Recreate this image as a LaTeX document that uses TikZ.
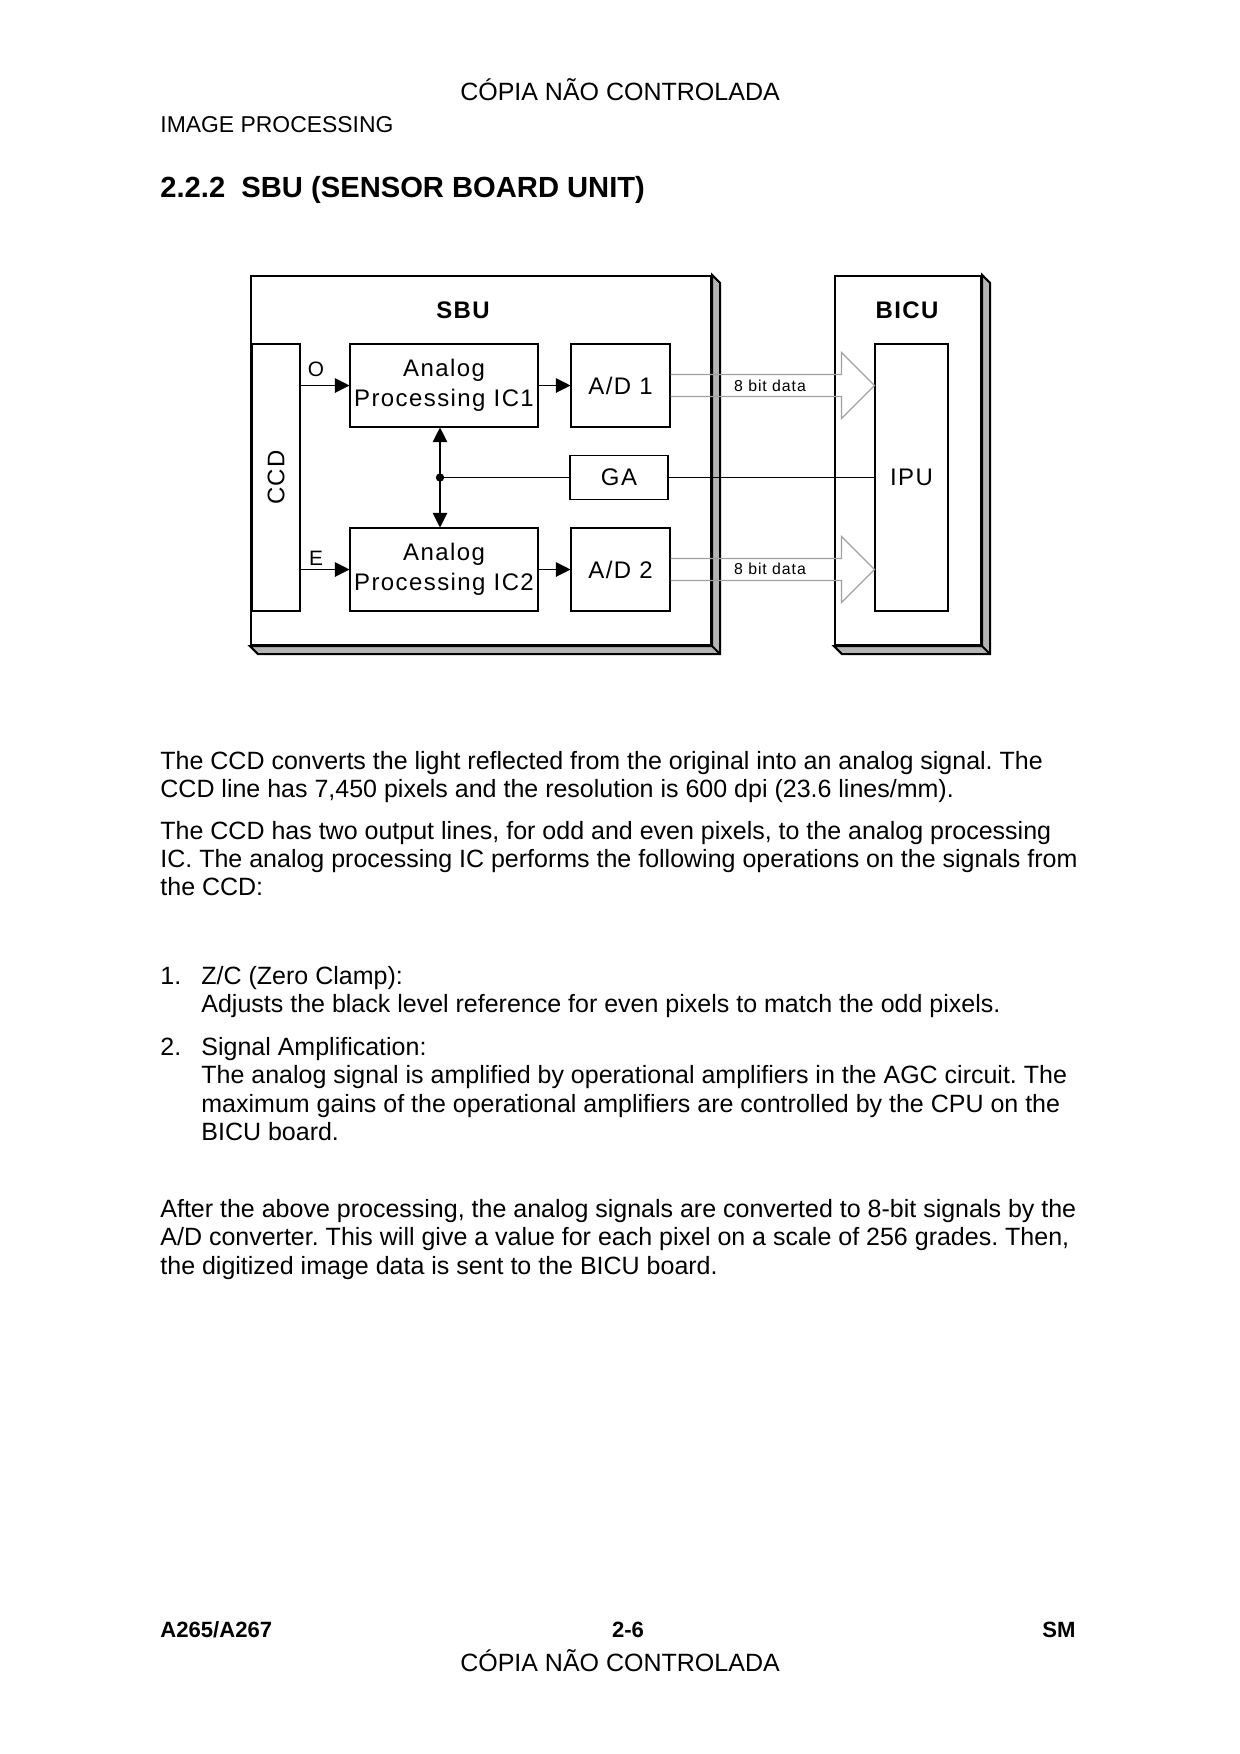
\documentclass[tikz,border=0pt]{standalone}
\usepackage{fontspec}
\setmainfont{Liberation Sans}
\newfontfamily\diagfont[LetterSpace=6]{Liberation Sans}
\usetikzlibrary{arrows.meta,calc}
\definecolor{shadowgray}{HTML}{B4B4B4}
\definecolor{arrowgray}{HTML}{A0A0A0}
\frenchspacing
\tikzset{
  body/.style={inner sep=0pt, anchor=base west, font=\fontsize{12}{14}\selectfont},
  outerbox/.style={draw, line width=1pt, fill=white, inner sep=0pt},
  shadowpoly/.style={fill=shadowgray, draw, line width=1pt, line join=miter},
  blockbox/.style={draw, line width=0.5pt, fill=white, inner sep=0pt, align=center,
    font=\diagfont\fontsize{11.5}{14.4}\selectfont},
  titletxt/.style={inner sep=0pt, anchor=base, font=\diagfont\bfseries\fontsize{11.5}{13}\selectfont},
  smalltxt/.style={inner sep=0pt, font=\diagfont\fontsize{10}{12}\selectfont},
  datatxt/.style={inner sep=0pt, anchor=base, font=\diagfont\fontsize{7.6}{9}\selectfont},
  sigarrow/.style={line width=0.5pt, -{Triangle[length=7pt,width=7pt]}},
  dblarrow/.style={line width=0.5pt, {Triangle[length=7pt,width=7pt]}-{Triangle[length=7pt,width=7pt]}},
  thinline/.style={line width=0.5pt},
  bigarrow/.style={draw=arrowgray, line width=0.6pt, line join=miter}
}
\begin{document}
\begin{tikzpicture}[x=0.48pt,y=-0.48pt]
\useasboundingbox[fill=white] (0,0) rectangle (1240,1754);

% ---------- page header ----------
\node[inner sep=0pt, anchor=base, font=\fontsize{12}{14}\selectfont] (hdr) at (620,100) {CÓPIA NÃO CONTROLADA};
\node[inner sep=0pt, anchor=base west, font=\fontsize{11}{13}\selectfont] (sect) at (160,132) {IMAGE PROCESSING};
\node[inner sep=0pt, anchor=base west, font=\bfseries\fontsize{14}{17}\selectfont] (head) at (160,197) {2.2.2\ \ SBU (SENSOR BOARD UNIT)};

% ---------- outer boards ----------
\node[outerbox, minimum width=220.8pt, minimum height=177.12pt] (sbu) at (481,460.5) {};
\filldraw[shadowpoly] (sbu.north east) -- ++(8,8) -- ($(sbu.south east)+(8,8)$) -- ($(sbu.south west)+(8,8)$) -- (sbu.south west) -- (sbu.south east) -- cycle;
\draw[line width=1pt] (sbu.south east) -- ++(8,8);

\node[outerbox, minimum width=70.08pt, minimum height=177.12pt] (bicu) at (908,460.5) {};
\filldraw[shadowpoly] (bicu.north east) -- ++(8,8) -- ($(bicu.south east)+(8,8)$) -- ($(bicu.south west)+(8,8)$) -- (bicu.south west) -- (bicu.south east) -- cycle;
\draw[line width=1pt] (bicu.south east) -- ++(8,8);

\node[titletxt] (sbut) at (463,318) {SBU};
\node[titletxt] (bicut) at (907,318) {BICU};

% ---------- inner blocks ----------
\node[blockbox, minimum width=23.04pt, minimum height=128.16pt] (ccd) at (276,477.5) {};
\node[inner sep=0pt, rotate=90, font=\diagfont\fontsize{11.5}{14}\selectfont] (ccdt) at (ccd.center) {CCD};

\node[blockbox, minimum width=90.24pt, minimum height=39.84pt] (ic1) at (444,385.5) {Analog\\Processing IC1};
\node[blockbox, minimum width=90.24pt, minimum height=39.84pt] (ic2) at (444,569.5) {Analog\\Processing IC2};
\node[blockbox, minimum width=47.52pt, minimum height=39.84pt] (ad1) at (620.5,385.5) {A/D 1};
\node[blockbox, minimum width=47.52pt, minimum height=39.84pt] (ad2) at (620.5,569.5) {A/D 2};
\node[blockbox, minimum width=47.04pt, minimum height=21.12pt] (ga) at (619,477.5) {GA};
\node[blockbox, minimum width=35.04pt, minimum height=128.16pt] (ipu) at (911.5,477.5) {IPU};

% ---------- signal arrows ----------
\draw[sigarrow] (ic1.west -| ccd.east) -- (ic1.west);
\draw[sigarrow] (ic2.west -| ccd.east) -- (ic2.west);
\draw[sigarrow] (ic1.east) -- (ad1.west);
\draw[sigarrow] (ic2.east) -- (ad2.west);
\node[smalltxt] (olbl) at (316,369.5) {O};
\node[smalltxt] (elbl) at (316,558) {E};

\coordinate (junc) at (440,477.5);
\draw[dblarrow] (junc |- ic1.south) -- (junc |- ic2.north);
\fill (junc) circle[radius=2pt];
\draw[thinline] (junc) -- (ga.west);
\draw[thinline] (ga.east) -- (ipu.west);

% ---------- 8 bit data arrows ----------
\draw[bigarrow] ($(ad1.east)+(0,-11)$) -- ($(ad1.east -| ipu.west)+(-33,-11)$) -- ++(0,-22) -- (ad1.east -| ipu.west) -- ++(-33,33) -- ++(0,-22) -- ($(ad1.east)+(0,11)$);
\draw[bigarrow] ($(ad2.east)+(0,-11)$) -- ($(ad2.east -| ipu.west)+(-33,-11)$) -- ++(0,-22) -- (ad2.east -| ipu.west) -- ++(-33,33) -- ++(0,-22) -- ($(ad2.east)+(0,11)$);
\node[datatxt] (d1) at (770,391) {8 bit data};
\node[datatxt] (d2) at (770,574.5) {8 bit data};

% ---------- body text ----------
\node[body] (p1a) at (160,769) {The CCD converts the light reflected from the original into an analog signal. The};
\node[body] (p1b) at (160,797) {CCD line has 7,450 pixels and the resolution is 600 dpi (23.6 lines/mm).};
\node[body] (p2a) at (160,839) {The CCD has two output lines, for odd and even pixels, to the analog processing};
\node[body] (p2b) at (160,867) {IC. The analog processing IC performs the following operations on the signals from};
\node[body] (p2c) at (160,895) {the CCD:};

\node[body] (n1) at (160,984) {1.};
\node[body] (i1a) at (201,984) {Z/C (Zero Clamp):};
\node[body] (i1b) at (201,1012.5) {Adjusts the black level reference for even pixels to match the odd pixels.};
\node[body] (n2) at (160,1055) {2.};
\node[body] (i2a) at (201,1055) {Signal Amplification:};
\node[body] (i2b) at (201,1083.5) {The analog signal is amplified by operational amplifiers in the AGC circuit. The};
\node[body] (i2c) at (201,1112) {maximum gains of the operational amplifiers are controlled by the CPU on the};
\node[body] (i2d) at (201,1140.5) {BICU board.};

\node[body] (p3a) at (160,1217) {After the above processing, the analog signals are converted to 8-bit signals by the};
\node[body] (p3b) at (160,1245.5) {A/D converter. This will give a value for each pixel on a scale of 256 grades. Then,};
\node[body] (p3c) at (160,1274) {the digitized image data is sent to the BICU board.};

% ---------- footer ----------
\node[inner sep=0pt, anchor=base west, font=\bfseries\fontsize{10.6}{13}\selectfont] (fl) at (160,1637) {A265/A267};
\node[inner sep=0pt, anchor=base, font=\bfseries\fontsize{10.6}{13}\selectfont] (fc) at (628,1637) {2-6};
\node[inner sep=0pt, anchor=base east, font=\bfseries\fontsize{10.6}{13}\selectfont] (fr) at (1076,1637) {SM};
\node[inner sep=0pt, anchor=base, font=\fontsize{12}{14}\selectfont] (ftr) at (620,1671) {CÓPIA NÃO CONTROLADA};
\end{tikzpicture}
\end{document}
